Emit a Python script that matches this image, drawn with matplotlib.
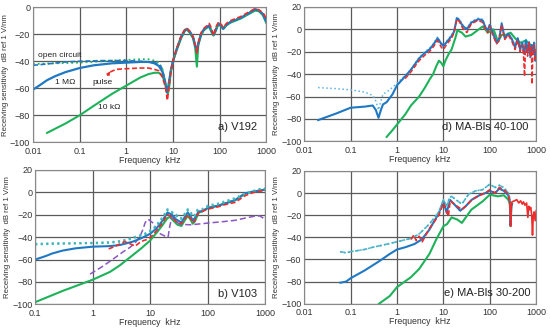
import matplotlib
matplotlib.use("Agg")
import matplotlib.pyplot as plt

plt.rcParams['font.family'] = ['Liberation Sans', 'DejaVu Sans']

BLUE = '#1f78c4'
LBLUE = '#5ab4e4'
GREEN = '#1eb25a'
TEAL = '#3ab8a8'
RED = '#ee2b2b'
PURPLE = '#8b55c2'

# ---- a) V192 ----
a_hf_f = [10, 12, 15, 18, 20, 23, 27, 30, 32.6, 35, 40, 45, 52, 60, 66, 74, 82, 95, 110, 120,
          140, 170, 200, 280, 400, 580, 700, 850, 1000]
a_hf_db = [-40, -31, -22, -17, -16, -18, -22, -28, -33, -27, -20, -17, -15, -13.5, -17, -20.5, -17, -12, -14, -16,
           -13, -11, -10, -8, -5, -1.5, -2.5, -5, -10.5]
a_oc_f = [0.01, 0.02, 0.05, 0.1, 0.3, 1, 2, 3, 4, 5, 5.8, 6.5, 7, 7.4, 8, 9]
a_oc_db = [-43, -42, -40.5, -40, -39.5, -39.5, -40, -40.5, -41, -42, -45, -52, -58, -63, -58, -47]
a_ocg_f = [0.01, 0.03, 0.1, 0.3, 1, 2, 3, 4, 5, 6, 6.8, 7.5, 8.2, 9]
a_ocg_db = [-42, -41.5, -41, -40, -39, -38.5, -38.5, -39.5, -41, -46, -55, -62, -57, -47]
a_1m_f = [0.01, 0.015, 0.02, 0.03, 0.05, 0.1, 0.2, 0.5, 1, 2, 3, 4, 5, 6, 6.8, 7.4, 8, 9]
a_1m_db = [-61, -57, -54, -51, -48, -45, -43, -41.5, -41, -40.5, -40.5, -41.5, -43.5, -48, -55, -63, -58, -47]
a_pulse_f = [0.45, 0.6, 1, 2, 3, 4, 5, 6, 7, 7.6, 8.2, 9]
a_pulse_db = [-48, -46, -45.5, -45, -45, -46, -47, -52, -60, -69, -60, -48]
a_pulse_hf_db = [-40, -31, -21, -16.5, -15.5, -18, -22, -28, -34, -26, -19, -16, -14, -12, -15, -21, -15, -11, -13, -15,
                 -12, -10, -9, -7, -4, -1, -2, -4, -8]
a_10k_f = [0.02, 0.05, 0.1, 0.2, 0.5, 1, 2, 3, 4, 5, 6, 7, 7.8, 8.4, 9]
a_10k_db = [-93, -86, -80, -73, -64, -58, -52, -49.5, -48.5, -48.5, -51, -58, -64, -58, -48]
a_10k_hf_db = [-40, -32, -23, -17.5, -16.5, -19, -23, -30, -44, -28, -21, -17.5, -15.5, -14.5, -18, -21, -18, -12.5, -14.5, -16,
               -13.5, -11.5, -10.5, -8.5, -5.5, -2.5, -3, -6, -11.5]

# ---- b) V103 ----
b_oc_f = [0.1, 0.2, 0.5, 1, 2, 3, 4, 5, 6, 7, 8, 10, 12, 15, 18, 20, 23, 27, 30, 35,
          40, 45, 50, 55, 60, 65, 70, 80, 100, 120, 150, 200, 300, 450, 600, 800, 1000]
b_oc_db = [-46, -45.5, -45.5, -45, -44.5, -43.5, -42, -40.5, -39, -38, -37, -34, -31, -25, -19, -15, -17, -19, -21, -23,
           -19, -15, -17, -21, -20, -16, -15, -15, -12, -11, -10, -8, -5, -1, 1, 3, 3.5]
b_ocg_db = [-46.5, -46, -45.5, -45.5, -45, -44, -42.5, -41, -39.5, -38.5, -37.5, -35, -32, -26, -20, -16, -17.5, -20, -22, -24,
            -20, -16, -18, -22, -21, -17, -16, -16, -13, -12, -11, -9, -6, -2, 0.5, 2.5, 3]
b_1m_f = [0.1, 0.15, 0.2, 0.3, 0.5, 1, 2, 3, 5, 7, 10, 13, 16, 20, 24, 28, 35, 40, 45, 50,
          55, 60, 70, 80, 100, 150, 200, 300, 450, 600, 800, 1000]
b_1m_db = [-60, -57, -54.5, -52, -50, -48.5, -48, -47, -44, -41, -37, -32, -26, -18, -20, -24, -27, -22, -18, -21,
           -25, -23, -17, -17, -14, -12, -10, -7, -1, 0.5, 1.5, 2.5]
b_pulse_f = [1.9, 2.5, 3, 3.6, 4.5, 5.5, 6.5, 7.7, 9, 10.7, 13, 16, 20, 24, 28, 35, 40, 45, 50, 55,
             60, 70, 80, 100, 150, 200, 300, 450, 600, 800, 1000]
b_pulse_db = [-50.5, -48, -46, -44, -46, -48, -45, -43, -42, -39, -34, -28, -20, -22, -26, -28, -24, -20, -23, -27,
              -25, -18, -17, -15, -13, -11, -9, -3, -0.5, 1, 2]
b_10k_f = [0.1, 0.3, 1, 2, 3, 5, 7, 10, 13, 16, 20, 22, 25, 30, 35, 40, 45, 50, 55, 60,
           70, 80, 100, 150, 200, 300, 450, 600, 800, 1000]
b_10k_db = [-98, -88, -78, -71, -65, -56, -50, -43, -36, -30, -23, -22, -25, -29, -30, -25, -21, -24, -28, -26,
            -18, -17, -14, -12, -10, -7, -1, 0.5, 1.5, 2.5]
b_purple_f = [0.9, 1.5, 2.5, 3.4, 4.5, 5.5, 6.7, 7.5, 8.2, 9.2, 11, 13, 15, 18, 20.5, 22, 24, 28, 33, 50,
              80, 125, 200, 300, 450, 620, 800, 1000]
b_purple_db = [-73, -66, -58, -53, -49, -45, -39, -33, -27, -24, -27, -33, -37, -39, -40, -30, -22, -26, -28.5, -29,
               -28, -27, -26, -25, -23, -21.5, -21, -24]

# ---- d) MA-Bls 40-100 ----
d_1m_f = [0.02, 0.05, 0.1, 0.2, 0.3, 0.35, 0.4, 0.45, 0.5, 0.6, 0.8, 1, 1.5, 2, 3, 4, 5, 6, 7.5, 9,
          10, 12, 15, 17, 19.5, 22, 26, 32, 40, 50, 57, 70, 80, 90, 100, 115, 140, 160, 180, 210,
          250, 300, 350, 400, 450, 500, 550, 600, 650, 700, 750, 800, 850, 900, 950, 1000]
d_1m_db = [-81, -75, -70, -69, -68, -72, -79, -72, -67, -65, -58, -50, -42, -36, -26, -21, -18, -14, -8, -13,
           -15, -11, -6, -2, 10, 8, 3, 0, 6, 8, 9, 8, 2, -1, 4, -3, -12, -8, 5, -8,
           -4, -9, -16, -8, -18, -12, -22, -10, -20, -12, -25, -14, -22, -12, -28, -20]
d_oc_f = [0.02, 0.05, 0.1, 0.2, 0.3, 0.35, 0.4, 0.45, 0.5, 0.7, 1, 1.5, 2, 3, 4, 5, 6, 7.5, 9,
          10, 12, 15, 17, 19.5, 22, 26, 32, 40, 50, 57, 70, 80, 90, 100, 115, 140, 160, 180, 210,
          250, 300, 350, 400, 450, 500, 550, 600, 650, 700, 750, 800, 850, 900, 950, 1000]
d_oc_db = [-52, -53, -54, -56, -59, -64, -72, -64, -58, -54, -48, -41, -36, -25, -20, -17, -13, -7, -12,
           -14, -10, -5, -1, 11, 9, 4, 1, 7, 9, 10, 9, 3, 0, 5, -2, -11, -7, 6, -7,
           -3, -8, -15, -7, -17, -11, -21, -9, -19, -11, -24, -13, -21, -11, -27, -19]
d_pulse_f = [1.5, 2, 3, 4, 5, 6, 7.5, 9, 10, 12, 15, 17, 19.5, 22, 26, 32, 40, 50, 57, 70,
             80, 90, 100, 115, 140, 160, 180, 210, 250, 300, 350, 400, 450, 500, 530, 560, 590, 650, 700, 750,
             790, 810, 850, 900, 950, 1000]
d_pulse_db = [-44, -38, -28, -23, -20, -16, -10, -16, -18, -13, -8, -3, 9, 7, 1, -3, 5, 7, 8, 6,
              0, -3, 3, -5, -13, -10, 4, -9, -5, -11, -18, -10, -20, -14, -22, -42, -14, -24, -12, -24,
              -16, -49, -20, -14, -27, -24]
d_10k_f = [0.6, 0.8, 1, 1.5, 2, 3, 4, 5, 6, 7, 8, 9, 10, 11, 13, 15, 18, 20, 25, 30,
           40, 50, 70, 80, 90, 120, 150, 180, 220, 280, 350, 450, 600, 800, 1000]
d_10k_db = [-96, -90, -85, -76, -68, -60, -52, -45, -40, -33, -28, -30, -33, -28, -22, -18, -8, -1, -3, -6.5,
            -5, -2, 2.5, 0, -3, 0, -11, -5, -5, -3, -8, -12, -10, -15, -20]

# ---- e) MA-Bls 30-200 ----
e_oc_f = [0.06, 0.08, 0.1, 0.2, 0.3, 0.5, 1, 2, 3, 5, 8, 10, 12, 13.5, 15, 20, 25, 35, 50, 70,
          100, 130, 160, 200, 250, 270, 280, 290, 300]
e_oc_db = [-53, -54, -53, -51, -49, -47, -44, -41, -37, -28, -17, -6, -12, -4, -3, -7, -10, -1, 2, 3,
           8, 5, 7, 5, 0, -5, -25, -10, -10]
e_1m_f = [0.06, 0.08, 0.1, 0.2, 0.4, 0.7, 1, 1.5, 2.4, 3.4, 5, 8, 10, 11.8, 13.7, 17, 23, 30, 41, 60,
          80, 100, 130, 160, 200, 250, 270, 280, 290, 300]
e_1m_db = [-81, -80, -77, -70, -62, -55, -51, -49, -46, -42, -33, -18, -7.5, -18, -6, -10, -16, -12, -6, -2,
           0, 2, 0, 4, 2, -2, -8, -29, -12, -10]
e_pulse_f = [2, 2.3, 2.6, 3, 3.5, 5, 8, 10, 12.8, 14, 17, 25, 30, 41, 60, 80, 100, 130, 160, 200, 250, 270]
e_pulse_db = [-42, -38, -43, -39, -44, -32, -20, -9, -21, -7, -10, -15, -12, -6, -2, 0, 3, 0, 5, 3, -1, -8]
e_pulse2_f = [270, 280, 290, 300, 340, 380, 420, 460, 500, 530, 570, 620, 660, 690, 720, 760, 800, 830, 860, 900,
              950, 1000]
e_pulse2_db = [-8, -30, -12, -8, -7, -6, -9, -7, -10, -8, -11, -9, -22, -12, -15, -13, -20, -38, -22, -17,
               -25, -16]
e_10k_f = [0.41, 0.7, 1, 2, 3, 5, 7, 10, 12, 15, 20, 25, 40, 70, 100, 150, 200, 250, 270, 280, 290, 300]
e_10k_db = [-100, -93, -85, -76, -68.6, -55, -42, -30, -28, -22, -24, -27, -15, -7.5, -1.5, -3, -2, -6, -10, -30,
            -12, -10]

xt_all = [0.01, 0.1, 1, 10, 100, 1000]
xl_all = ['0.01', '0.1', '1', '10', '100', '1000']


def setup(ax, xmin, ymax, title, tx, ty):
    ax.set_xscale('log')
    ax.set_xlim(xmin, 1000)
    ax.set_ylim(-100, ymax)
    ticks = [t for t in xt_all if t >= xmin]
    labels = [l for t, l in zip(xt_all, xl_all) if t >= xmin]
    ax.set_xticks(ticks)
    ax.set_xticklabels(labels)
    ax.minorticks_off()
    ax.set_yticks(list(range(-100, ymax + 1, 20)))
    ax.grid(True, color='#5a5a5a', lw=0.9)
    ax.set_axisbelow(True)
    ax.tick_params(length=0, labelsize=6.5, pad=2, colors='#333333')
    ax.tick_params(axis='x', pad=3)
    for s in ax.spines.values():
        s.set_color('#888888')
        s.set_linewidth(0.8)
    ax.set_xlabel('Frequency  kHz', fontsize=6.3, labelpad=0, color='#333333')
    ax.set_ylabel('Receiving sensitivity  dB ref 1 V/nm', fontsize=5.6, labelpad=1, color='#333333')
    ax.text(tx, ty, title, transform=ax.transAxes, ha='right', va='center', fontsize=8, color='#222222')


fig = plt.figure(figsize=(5.5, 3.28), dpi=100)

# a)
ax = fig.add_axes([0.060, 0.566, 0.424, 0.412])
setup(ax, 0.01, 0, 'a) V192', 0.96, 0.11)
ax.plot(a_10k_f + a_hf_f, a_10k_db + a_10k_hf_db, color=GREEN, lw=1.5)
ax.plot(a_1m_f + a_hf_f, a_1m_db + a_hf_db, color=BLUE, lw=1.6)
ax.plot(a_ocg_f + a_hf_f, a_ocg_db + a_hf_db, color=GREEN, lw=1.3, ls=':')
ax.plot(a_oc_f + a_hf_f, a_oc_db + a_hf_db, color=BLUE, lw=1.2, ls=(0, (3, 1.5)))
ax.plot(a_pulse_f + a_hf_f, a_pulse_db + a_pulse_hf_db, color=RED, lw=1.2, ls=(0, (3, 1.5)))
ax.text(0.0128, -36, 'open circuit', fontsize=6, ha='left', va='center', color='#222222')
ax.text(0.03, -56, '1 M\u03a9', fontsize=6, ha='left', va='center', color='#222222')
ax.annotate('pulse', xy=(0.45, -47.5), xytext=(0.19, -56), fontsize=6, ha='left', va='center',
            color='#222222', arrowprops=dict(arrowstyle='-|>', color=RED, lw=0.8, mutation_scale=5,
                                             shrinkA=1, shrinkB=0))
ax.text(0.25, -74, '10 k\u03a9', fontsize=6, ha='left', va='center', color='#222222')

# d)
ax = fig.add_axes([0.553, 0.569, 0.422, 0.410])
setup(ax, 0.01, 20, 'd) MA-Bls 40-100', 0.966, 0.104)
ax.plot(d_10k_f, d_10k_db, color=GREEN, lw=1.5)
ax.plot(d_oc_f, d_oc_db, color=LBLUE, lw=1.1, ls=':')
ax.plot(d_1m_f, d_1m_db, color=BLUE, lw=1.5)
ax.plot(d_pulse_f, d_pulse_db, color=RED, lw=1.1, ls=(0, (3, 1.5)))

# b)
ax = fig.add_axes([0.064, 0.072, 0.418, 0.410])
setup(ax, 0.1, 20, 'b) V103', 0.965, 0.08)
ax.plot(b_10k_f, b_10k_db, color=GREEN, lw=1.5)
ax.plot(b_purple_f, b_purple_db, color=PURPLE, lw=1.1, ls=(0, (4, 2)))
ax.plot(b_1m_f, b_1m_db, color=BLUE, lw=1.5)
ax.plot(b_oc_f, b_oc_db, color=LBLUE, lw=1.5, ls=':')
ax.plot(b_oc_f, b_ocg_db, color=TEAL, lw=1.5, ls=':')
ax.plot(b_pulse_f, b_pulse_db, color=RED, lw=1.2, ls=(0, (3, 1.5)))

# e)
ax = fig.add_axes([0.553, 0.074, 0.422, 0.405])
setup(ax, 0.01, 20, 'e) MA-Bls 30-200', 0.974, 0.082)
ax.plot(e_10k_f, e_10k_db, color=GREEN, lw=1.5)
ax.plot(e_1m_f, e_1m_db, color=BLUE, lw=1.5)
ax.plot(e_oc_f, e_oc_db, color=LBLUE, lw=1.2, ls=(0, (3, 1.5)))
ax.plot(e_oc_f, e_oc_db, color=TEAL, lw=1.1, ls=':')
ax.plot(e_pulse_f, e_pulse_db, color=RED, lw=1.2, ls=(0, (3, 1.5)))
ax.plot(e_pulse2_f, e_pulse2_db, color=RED, lw=1.2)

fig.savefig('out.png', dpi=100)
